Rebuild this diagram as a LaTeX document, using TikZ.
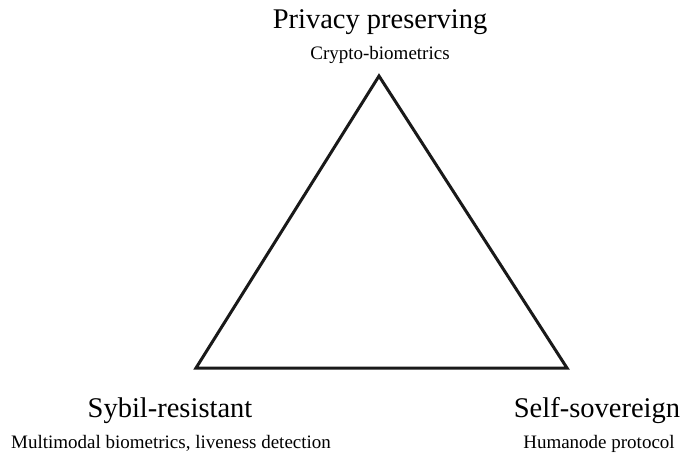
\documentclass[tikz,border=0pt]{standalone}
\usepackage{fontspec}
\setmainfont{Liberation Serif}
\begin{document}
\begin{tikzpicture}[x=1pt,y=-1pt,
  title/.style={anchor=base,inner sep=0pt,font=\fontsize{28.5}{30}\selectfont},
  sub/.style={anchor=base,inner sep=0pt,font=\fontsize{19}{21}\selectfont},
  tri/.style={line width=3pt,line join=miter,draw=black!90}]
\useasboundingbox (0,0) rectangle (681,453);
\coordinate (A) at (379,76);
\coordinate (B) at (196,368);
\coordinate (C) at (567,368);
\draw[tri] (A) -- (B) -- (C) -- cycle;
\node[title] (t1) at (380,28) {Privacy preserving};
\node[sub] (s1) at (380,59) {Crypto-biometrics};
\node[title] (t2) at (170,417) {Sybil-resistant};
\node[sub] (s2) at (171,448) {Multimodal biometrics, liveness detection};
\node[title] (t3) at (597,417) {Self-sovereign};
\node[sub] (s3) at (599,448) {Humanode protocol};
\end{tikzpicture}
\end{document}
